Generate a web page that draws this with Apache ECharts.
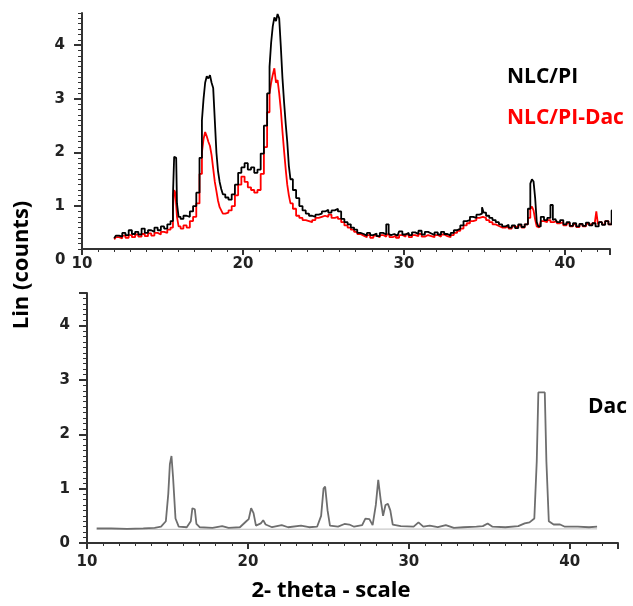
<!DOCTYPE html>
<html>
<head>
<meta charset="utf-8">
<script src="https://cdn.jsdelivr.net/npm/echarts@6/dist/echarts.min.js"></script>
<style>html,body{margin:0;padding:0;background:#fff}#c{width:633px;height:606px}</style>
</head>
<body>
<div id="c"></div>
<script>
// ---- data ----
const xTickLabels = [10, 20, 30, 40];
const yTickLabelsTop = [1, 2, 3, 4];

const nlcPI = [
[12.0,0.40],[12.2,0.45],[12.4,0.43],[12.6,0.50],[12.8,0.46],[13.0,0.55],[13.2,0.48],[13.4,0.52],[13.6,0.47],[13.8,0.58],
[14.0,0.50],[14.2,0.55],[14.4,0.52],[14.6,0.60],[14.8,0.55],[15.0,0.62],[15.2,0.58],[15.4,0.66],[15.6,0.72],[15.7,1.20],
[15.75,1.92],[15.85,1.90],[15.95,1.05],[16.05,0.80],[16.2,0.76],[16.4,0.82],[16.6,0.80],[16.8,0.90],[17.0,1.00],[17.2,1.25],
[17.4,1.90],[17.5,2.60],[17.6,3.00],[17.7,3.30],[17.8,3.42],[17.9,3.38],[18.0,3.44],[18.1,3.30],[18.2,3.20],[18.3,2.60],
[18.4,2.00],[18.5,1.65],[18.6,1.45],[18.7,1.32],[18.8,1.22],[19.0,1.16],[19.2,1.12],[19.4,1.22],[19.6,1.40],[19.8,1.62],
[20.0,1.72],[20.2,1.80],[20.4,1.68],[20.6,1.72],[20.8,1.62],[21.0,1.68],[21.2,1.98],[21.4,2.50],[21.6,3.10],[21.7,3.60],
[21.8,4.05],[21.9,4.35],[22.0,4.52],[22.1,4.45],[22.2,4.58],[22.3,4.50],[22.4,3.98],[22.5,3.40],[22.6,2.95],[22.7,2.55],
[22.8,2.20],[22.9,1.75],[23.0,1.50],[23.2,1.30],[23.4,1.15],[23.6,1.00],[23.8,0.92],[24.0,0.86],[24.2,0.82],[24.4,0.80],
[24.6,0.84],[24.8,0.86],[25.0,0.90],[25.2,0.93],[25.4,0.88],[25.6,0.92],[25.8,0.95],[26.0,0.90],[26.2,0.76],[26.4,0.70],
[26.6,0.66],[26.8,0.60],[27.0,0.56],[27.2,0.50],[27.4,0.48],[27.6,0.45],[27.8,0.50],[28.0,0.46],[28.2,0.49],[28.4,0.44],
[28.6,0.50],[28.8,0.47],[29.0,0.66],[29.1,0.48],[29.2,0.46],[29.4,0.48],[29.6,0.45],[29.8,0.53],[30.0,0.47],[30.2,0.50],
[30.4,0.46],[30.6,0.51],[30.8,0.48],[31.0,0.54],[31.2,0.47],[31.4,0.52],[31.6,0.49],[31.8,0.46],[32.0,0.51],[32.2,0.47],
[32.4,0.52],[32.6,0.48],[32.8,0.45],[33.0,0.50],[33.2,0.55],[33.4,0.58],[33.6,0.64],[33.8,0.72],[34.0,0.74],[34.2,0.80],
[34.4,0.78],[34.6,0.84],[34.8,0.86],[34.9,0.98],[35.0,0.88],[35.2,0.82],[35.4,0.78],[35.6,0.74],[35.8,0.70],[36.0,0.66],
[36.2,0.62],[36.4,0.65],[36.6,0.60],[36.8,0.64],[37.0,0.59],[37.2,0.66],[37.4,0.61],[37.6,0.66],[37.8,0.95],[37.9,1.42],
[38.0,1.50],[38.1,1.46],[38.2,1.15],[38.3,0.70],[38.4,0.62],[38.6,0.80],[38.8,0.74],[39.0,0.78],[39.2,1.02],[39.3,0.74],
[39.4,0.76],[39.6,0.70],[39.8,0.74],[40.0,0.66],[40.2,0.70],[40.4,0.63],[40.6,0.68],[40.8,0.62],[41.0,0.67],[41.2,0.63],
[41.4,0.69],[41.6,0.64],[41.8,0.68],[42.0,0.62],[42.2,0.70],[42.4,0.65],[42.6,0.72],[42.8,0.66],[43.0,0.92],[43.1,0.68],[43.2,0.70]
];

const nlcPIDac = [
[12.0,0.38],[12.2,0.42],[12.4,0.40],[12.6,0.45],[12.8,0.41],[13.0,0.46],[13.2,0.42],[13.4,0.47],[13.6,0.43],[13.8,0.48],
[14.0,0.44],[14.2,0.49],[14.4,0.45],[14.6,0.50],[14.8,0.47],[15.0,0.52],[15.2,0.50],[15.4,0.56],[15.6,0.60],[15.7,0.95],
[15.75,1.30],[15.85,1.25],[15.95,0.80],[16.05,0.62],[16.2,0.58],[16.4,0.64],[16.6,0.60],[16.8,0.72],[17.0,0.80],[17.2,1.05],
[17.4,1.60],[17.5,2.00],[17.6,2.25],[17.7,2.38],[17.8,2.30],[17.9,2.20],[18.0,2.12],[18.1,1.95],[18.2,1.70],[18.3,1.45],
[18.4,1.28],[18.5,1.10],[18.6,0.98],[18.7,0.92],[18.8,0.86],[19.0,0.88],[19.2,0.92],[19.4,1.00],[19.6,1.20],[19.8,1.40],
[20.0,1.55],[20.2,1.45],[20.4,1.35],[20.6,1.30],[20.8,1.25],[21.0,1.30],[21.2,1.60],[21.4,2.10],[21.6,2.75],[21.7,3.10],
[21.8,3.30],[21.9,3.45],[22.0,3.57],[22.1,3.30],[22.2,3.35],[22.3,3.10],[22.4,2.80],[22.5,2.40],[22.6,2.04],[22.7,1.70],
[22.8,1.40],[22.9,1.20],[23.0,1.05],[23.2,0.95],[23.4,0.82],[23.6,0.78],[23.8,0.74],[24.0,0.72],[24.2,0.70],[24.4,0.74],
[24.6,0.78],[24.8,0.80],[25.0,0.82],[25.2,0.80],[25.4,0.84],[25.6,0.78],[25.8,0.80],[26.0,0.76],[26.2,0.70],[26.4,0.64],
[26.6,0.60],[26.8,0.56],[27.0,0.52],[27.2,0.48],[27.4,0.45],[27.6,0.42],[27.8,0.46],[28.0,0.41],[28.2,0.45],[28.4,0.42],
[28.6,0.46],[28.8,0.43],[29.0,0.47],[29.2,0.42],[29.4,0.45],[29.6,0.41],[29.8,0.46],[30.0,0.43],[30.2,0.47],[30.4,0.42],
[30.6,0.46],[30.8,0.44],[31.0,0.48],[31.2,0.43],[31.4,0.46],[31.6,0.44],[31.8,0.42],[32.0,0.46],[32.2,0.43],[32.4,0.47],
[32.6,0.44],[32.8,0.42],[33.0,0.46],[33.2,0.50],[33.4,0.54],[33.6,0.58],[33.8,0.64],[34.0,0.68],[34.2,0.72],[34.4,0.74],
[34.6,0.78],[34.8,0.80],[35.0,0.78],[35.2,0.74],[35.4,0.70],[35.6,0.66],[35.8,0.63],[36.0,0.60],[36.2,0.60],[36.4,0.62],
[36.6,0.58],[36.8,0.62],[37.0,0.60],[37.2,0.64],[37.4,0.60],[37.6,0.66],[37.8,0.78],[37.9,0.95],[38.0,0.99],[38.1,0.92],
[38.2,0.75],[38.3,0.62],[38.4,0.60],[38.6,0.72],[38.8,0.70],[39.0,0.74],[39.2,0.70],[39.4,0.72],[39.6,0.68],[39.8,0.70],
[40.0,0.64],[40.2,0.68],[40.4,0.62],[40.6,0.66],[40.8,0.61],[41.0,0.66],[41.2,0.62],[41.4,0.67],[41.6,0.64],[41.8,0.68],
[41.9,0.66],[42.0,0.90],[42.1,0.66],[42.2,0.70],[42.4,0.66],[42.6,0.72],[42.8,0.66],[43.0,0.70],[43.2,0.72]
];

const dac = [
[10.6,0.27],[11.5,0.27],[12.5,0.26],[13.5,0.27],[14.2,0.28],[14.6,0.30],[14.9,0.40],[15.05,0.90],[15.15,1.45],[15.25,1.60],
[15.35,1.20],[15.5,0.45],[15.7,0.30],[16.2,0.29],[16.45,0.40],[16.55,0.64],[16.7,0.62],[16.8,0.35],[17.0,0.29],[17.8,0.28],
[18.4,0.31],[18.8,0.28],[19.5,0.29],[19.9,0.40],[20.05,0.44],[20.2,0.64],[20.35,0.55],[20.5,0.32],[20.8,0.36],[20.95,0.42],
[21.1,0.34],[21.5,0.29],[22.1,0.33],[22.5,0.29],[23.3,0.32],[23.8,0.29],[24.3,0.30],[24.55,0.50],[24.7,1.00],[24.8,1.04],
[24.95,0.60],[25.1,0.32],[25.6,0.30],[26.0,0.35],[26.3,0.34],[26.6,0.30],[27.1,0.33],[27.3,0.45],[27.55,0.44],[27.75,0.33],
[27.95,0.70],[28.1,1.16],[28.25,0.80],[28.4,0.50],[28.55,0.70],[28.7,0.72],[28.85,0.60],[29.0,0.34],[29.5,0.31],[30.3,0.30],
[30.6,0.38],[30.9,0.30],[31.3,0.32],[31.8,0.29],[32.3,0.33],[32.8,0.28],[33.4,0.29],[34.2,0.30],[34.6,0.31],[34.9,0.36],
[35.2,0.30],[36.0,0.29],[36.8,0.31],[37.2,0.36],[37.5,0.38],[37.8,0.45],[37.95,1.50],[38.05,2.77],[38.45,2.77],[38.55,1.50],
[38.7,0.40],[39.0,0.34],[39.4,0.34],[39.7,0.30],[40.5,0.30],[41.2,0.29],[41.7,0.30]
];
const dacBaseline = [[10.6,0.25],[41.7,0.26]];

// ---- chart ----
const chart = echarts.init(document.getElementById('c'));
const ax = '#333';
const labelStyle = {fontFamily: 'DejaVu Sans', fontWeight: 'bold', fontSize: 15, color: '#222'};

const option = {
  animation: false,
  grid: [
    {left: 82, right: 23, top: 13, bottom: 357},
    {left: 87, right: 15, top: 293, bottom: 63},
    {left: 82, right: 23, top: 13, bottom: 357}
  ],
  xAxis: [
    {type: 'value', gridIndex: 0, min: 10, max: 42.8, interval: 10,
     axisLine: {show: true, lineStyle: {color: ax, width: 2}},
     axisTick: {show: true, inside: false, length: 6, lineStyle: {color: ax, width: 2}},
     minorTick: {show: true, splitNumber: 10, length: 3, lineStyle: {color: ax, width: 1}},
     axisLabel: Object.assign({showMaxLabel: false, margin: 8}, labelStyle),
     splitLine: {show: false}},
    {type: 'value', gridIndex: 1, min: 10, max: 43, interval: 10,
     axisLine: {show: true, lineStyle: {color: ax, width: 2}},
     axisTick: {show: true, inside: false, length: 6, lineStyle: {color: ax, width: 2}},
     minorTick: {show: true, splitNumber: 10, length: 3, lineStyle: {color: ax, width: 1}},
     axisLabel: Object.assign({showMaxLabel: false, margin: 12}, labelStyle),
     splitLine: {show: false}},
    {type: 'value', gridIndex: 2, min: 10, max: 42.8,
     axisLine: {show: false}, axisTick: {show: false}, axisLabel: {show: false}, splitLine: {show: false}}
  ],
  yAxis: [
    {type: 'value', gridIndex: 0, min: 0.2, max: 4.6,
     axisLine: {show: true, lineStyle: {color: ax, width: 2}},
     axisTick: {show: true, inside: false, customValues: yTickLabelsTop, length: 8, lineStyle: {color: ax, width: 2}},
     axisLabel: Object.assign({customValues: yTickLabelsTop, margin: 17}, labelStyle),
     splitLine: {show: false}},
    {type: 'value', gridIndex: 1, min: 0, max: 4.6, interval: 1,
     axisLine: {show: true, lineStyle: {color: ax, width: 2}},
     axisTick: {show: true, inside: false, length: 8, lineStyle: {color: ax, width: 2}},
     minorTick: {show: true, splitNumber: 10, length: 4, lineStyle: {color: ax, width: 1}},
     axisLabel: Object.assign({showMaxLabel: false, margin: 17}, labelStyle),
     splitLine: {show: false}},
    {type: 'value', gridIndex: 2, min: 0.2, max: 4.6, interval: 0.1,
     axisLine: {show: false}, axisLabel: {show: false}, splitLine: {show: false},
     axisTick: {show: true, inside: false, interval: 0, length: 4, lineStyle: {color: ax, width: 1}}}
  ],
  series: [
    {name: 'NLC/PI-Dac', type: 'line', xAxisIndex: 0, yAxisIndex: 0, data: nlcPIDac, step: 'middle',
     showSymbol: false, clip: false, lineStyle: {color: '#ff0000', width: 1.8}},
    {name: 'NLC/PI', type: 'line', xAxisIndex: 0, yAxisIndex: 0, data: nlcPI, step: 'middle',
     showSymbol: false, clip: false, lineStyle: {color: '#000', width: 1.8}},
    {name: 'baseline', type: 'line', xAxisIndex: 1, yAxisIndex: 1, data: dacBaseline,
     showSymbol: false, lineStyle: {color: '#bbb', width: 1}},
    {name: 'Dac', type: 'line', xAxisIndex: 1, yAxisIndex: 1, data: dac,
     showSymbol: false, lineStyle: {color: '#6e6e6e', width: 1.8}}
  ],
  graphic: [
    {type: 'text', left: 55, top: 253, style: {text: '0', font: 'bold 15px "DejaVu Sans"', fill: '#222'}},
    {type: 'text', left: 507, top: 67, style: {text: 'NLC/PI', font: 'bold 21px "Open Sans"', fill: '#000'}},
    {type: 'text', left: 507, top: 108, style: {text: 'NLC/PI-Dac', font: 'bold 21px "Open Sans"', fill: '#ff0000'}},
    {type: 'text', left: 588, top: 397, style: {text: 'Dac', font: 'bold 21px "Open Sans"', fill: '#000'}},
    {type: 'text', x: 22, y: 265, rotation: Math.PI / 2, style: {text: 'Lin (counts)', font: 'bold 22px "Open Sans"', fill: '#000', align: 'center', verticalAlign: 'middle'}},
    {type: 'text', x: 331, y: 591, style: {text: '2- theta - scale', font: 'bold 22px "Open Sans"', fill: '#000', align: 'center', verticalAlign: 'middle'}}
  ]
};
chart.setOption(option);
</script>
</body>
</html>
